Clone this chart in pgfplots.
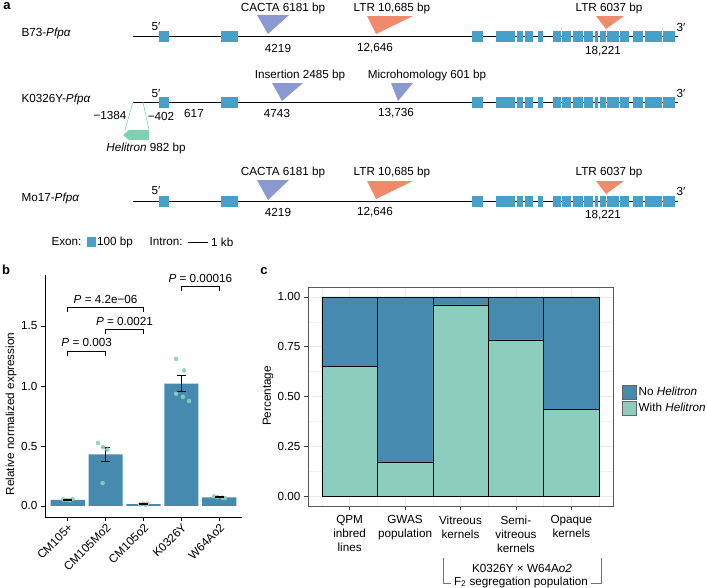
\documentclass[border=0pt]{standalone}
\usepackage{pgfplots}
\pgfplotsset{compat=1.18}
\usepackage{fontspec}
\setmainfont{Liberation Sans}

\definecolor{exon}{HTML}{46A0C8}
\definecolor{tri}{HTML}{8A9AD0}
\definecolor{ltr}{HTML}{F08A6C}
\definecolor{heli}{HTML}{80D0B4}
\definecolor{dblue}{HTML}{468AAF}
\definecolor{lgreen}{HTML}{8DCDBE}

\pgfplotsset{every axis/.append style={font=\fontsize{11.7}{13.5}\selectfont}}

\begin{document}
\begin{tikzpicture}[font=\fontsize{11.7}{13.5}\selectfont]
\path[use as bounding box] (0pt,0pt) rectangle (707pt,-588pt);

% canvas in pixel units (y downwards): gene models of panel a, labels
\begin{axis}[at={(0pt,-588pt)}, anchor=south west,
  width=707pt, height=588pt, scale only axis,
  xmin=0, xmax=707, ymin=0, ymax=588, y dir=reverse,
  hide axis, clip=false]
% introns
\addplot[black, line width=0.9pt] coordinates {(133,36) (678,36)};
\addplot[black, line width=0.9pt] coordinates {(133,102) (678,102)};
\addplot[black, line width=0.9pt] coordinates {(133,201) (678,201)};
% exons
\pgfplotsforeachungrouped \ya/\yb in {30.5/41.5,96.5/107.5,195.5/206.5}{%
  \pgfplotsforeachungrouped \xa/\xb in {159/169,221/238,472/483,496/515,517/523,525/533,538/543,553/561,562/571,573/583,584/593,595/598,600/606,607/619,620/629,633/643,645/662,663/675}{%
    \edef\temp{\noexpand\addplot[fill=exon, draw=none] coordinates {(\xa,\ya) (\xb,\ya) (\xb,\yb) (\xa,\yb)} --cycle;}\temp
  }}
% insertions
\addplot[fill=tri, draw=none] coordinates {(257,15) (289,15) (268,34)} --cycle;
\addplot[fill=ltr, draw=none] coordinates {(367,16) (413,16) (376,34)} --cycle;
\addplot[fill=ltr, draw=none] coordinates {(596,16) (624,16) (606,29)} --cycle;
\addplot[fill=tri, draw=none] coordinates {(272,83) (303,83) (282,101)} --cycle;
\addplot[fill=tri, draw=none] coordinates {(391,83) (413,83) (398,101)} --cycle;
\addplot[fill=tri, draw=none] coordinates {(257,180) (289,180) (268,200)} --cycle;
\addplot[fill=ltr, draw=none] coordinates {(367,181) (413,181) (376,199)} --cycle;
\addplot[fill=ltr, draw=none] coordinates {(596,181) (624,181) (606,194)} --cycle;
% helitron
\addplot[heli, line width=0.6pt] coordinates {(133,102) (125,130)};
\addplot[heli, line width=0.6pt] coordinates {(143,102) (149,130)};
\addplot[fill=heli, draw=none] coordinates {(123,135) (129,130) (149,130) (149,140) (129,140)} --cycle;
% scale legend
\addplot[fill=exon, draw=none] coordinates {(87,237) (96,237) (96,247) (87,247)} --cycle;
\addplot[black, line width=0.9pt] coordinates {(188,242) (208,242)};

\node[font=\bfseries\fontsize{13}{13}\selectfont] at (7,6) {a};
\node[font=\bfseries\fontsize{13}{13}\selectfont] at (6,270) {b};
\node[font=\bfseries\fontsize{13}{13}\selectfont] at (264,271) {c};

\node[anchor=west] at (18,33) {B73-\textit{Pfpα}};
\node[anchor=west] at (18,99) {K0326Y-\textit{Pfpα}};
\node[anchor=west] at (18,198) {Mo17-\textit{Pfpα}};

\node at (156,27) {5′}; \node at (681,27) {3′};
\node at (156,94) {5′}; \node at (681,93) {3′};
\node at (156,191) {5′}; \node at (681,191) {3′};

\node at (283,8) {CACTA 6181 bp};
\node at (278,48) {4219};
\node at (392,8) {LTR 10,685 bp};
\node at (375,48) {12,646};
\node at (609,8) {LTR 6037 bp};
\node at (603,51) {18,221};

\node at (300,75) {Insertion 2485 bp};
\node at (277,113) {4743};
\node at (427,75) {Microhomology 601 bp};
\node at (396,113) {13,736};
\node at (110,115) {−1384};
\node at (161,116) {−402};
\node at (194,113) {617};
\node at (146,148) {\textit{Helitron} 982 bp};

\node at (283,172) {CACTA 6181 bp};
\node at (278,212) {4219};
\node at (392,172) {LTR 10,685 bp};
\node at (375,212) {12,646};
\node at (609,172) {LTR 6037 bp};
\node at (603,215) {18,221};

\node[anchor=west] at (48,242) {Exon:};
\node[anchor=west, inner sep=1pt] at (96,242) {100 bp};
\node[anchor=west] at (146,242) {Intron:};
\node[anchor=west, inner sep=1pt] at (210,242) {1 kb};

\node[rotate=90] at (11,414) {Relative normalized expression};
\node[rotate=90] at (268,396) {Percentage};

% population bracket under panel c
\addplot[black!55, line width=0.6pt] coordinates {(443,558) (443,583) (451,583)};
\addplot[black!55, line width=0.6pt] coordinates {(591,583) (601,583) (601,558)};
\node at (522,568) {K0326Y × W64A\textit{o2}};
\node at (521,582) {F\textsubscript{2} segregation population};
\end{axis}

% panel b
\begin{axis}[at={(45pt,-517pt)}, anchor=south west,
  width=197pt, height=242pt, scale only axis,
  xmin=0.4, xmax=5.6, ymin=-0.092, ymax=1.925,
  axis lines=left, axis line style={-, black, line width=0.6pt},
  tick align=outside, major tick length=4pt,
  tick style={black, line width=0.6pt},
  xtick={1,2,3,4,5},
  xticklabels={CM105+,CM105Mo2,CM105o2,K0326Y,W64Ao2},
  x tick label style={rotate=45, anchor=north east, inner sep=1pt},
  ytick={0,0.5,1,1.5}, yticklabels={0.0,0.5,1.0,1.5},
  clip=false]
\addplot[ybar, bar width=0.9, fill=dblue, draw=none]
  coordinates {(1,0.05) (2,0.43) (3,0.015) (4,1.02) (5,0.072)};
\addplot[lgreen, only marks, mark=*, mark size=2pt, mark options={fill=lgreen, draw=lgreen, opacity=0.9}]
  coordinates {(0.88,0.055) (0.96,0.05) (1.05,0.047) (1.13,0.058)
               (1.80,0.525) (1.93,0.49) (2.05,0.47) (1.92,0.19)
               (2.90,0.012) (3.00,0.018) (3.10,0.02) (3.05,0.008)
               (3.86,1.225) (4.07,1.13) (3.86,0.935) (4.04,0.91) (4.20,0.875)
               (4.86,0.08) (4.95,0.075) (5.08,0.07) (5.15,0.066)};
\addplot[draw=none, mark=none,
  error bars/.cd, y dir=both, y explicit,
  error bar style={solid, draw=black, line width=0.8pt},
  error mark options={rotate=90, mark size=4.5pt, line width=1pt, draw=black}]
  coordinates {(2,0.43) +- (0,0.058) (4,1.02) +- (0,0.068)};
% near-zero standard errors: caps merge into one short bar
\addplot[black, only marks, mark=-, mark size=4.5pt, mark options={line width=2pt}]
  coordinates {(1,0.05) (3,0.015) (5,0.072)};
% significance brackets
\addplot[black, line width=0.6pt] coordinates {(1,1.25) (1,1.292) (2,1.292) (2,1.25)};
\addplot[black, line width=0.6pt] coordinates {(2,1.433) (2,1.475) (3,1.475) (3,1.433)};
\addplot[black, line width=0.6pt] coordinates {(1,1.617) (1,1.658) (3,1.658) (3,1.617)};
\addplot[black, line width=0.6pt] coordinates {(4,1.79) (4,1.833) (5,1.833) (5,1.79)};
\node at (1.5,1.36) {\textit{P} = 0.003};
\node at (2.5,1.535) {\textit{P} = 0.0021};
\node at (2.0,1.72) {\textit{P} = 4.2e−06};
\node at (4.5,1.9) {\textit{P} = 0.00016};
\end{axis}

% panel c
\begin{axis}[at={(308pt,-506pt)}, anchor=south west,
  width=305pt, height=219pt, scale only axis,
  xmin=0.25, xmax=5.75, ymin=-0.05, ymax=1.05,
  ybar stacked, bar width=1,
  axis line style={black!65, line width=0.6pt},
  tick align=outside, major tick length=4pt, minor tick length=0pt,
  tick style={black!75, line width=0.6pt}, tick pos=left,
  xtick={1,2,3,4,5},
  xticklabels={{QPM\\inbred\\lines},{GWAS\\population},{Vitreous\\kernels},{Semi-\\vitreous\\kernels},{Opaque\\kernels}},
  x tick label style={align=center, anchor=north, yshift=-2pt, font=\fontsize{11.7}{14}\selectfont},
  ytick={0,0.25,0.5,0.75,1}, yticklabels={0.00,0.25,0.50,0.75,1.00},
  minor xtick={0.5,1.5,2.5,3.5,4.5,5.5},
  minor ytick={0.125,0.375,0.625,0.875},
  grid=both, major grid style={black!8, line width=0.8pt},
  minor grid style={black!5, line width=0.5pt},
  reverse legend,
  legend style={at={(1,0.484)}, anchor=west, xshift=6pt, draw=none, fill=none,
    row sep=2pt, cells={anchor=west}},
  legend image code/.code={\draw[#1, draw=black!60] (0pt,-7pt) rectangle (14pt,7pt);}]
\addplot[fill=lgreen, draw=black, line width=0.5pt]
  coordinates {(1,0.65) (2,0.17) (3,0.96) (4,0.785) (5,0.435)};
\addplot[fill=dblue, draw=black, line width=0.5pt]
  coordinates {(1,0.35) (2,0.83) (3,0.04) (4,0.215) (5,0.565)};
\legend{With \textit{Helitron}, No \textit{Helitron}}
\end{axis}
\end{tikzpicture}
\end{document}
